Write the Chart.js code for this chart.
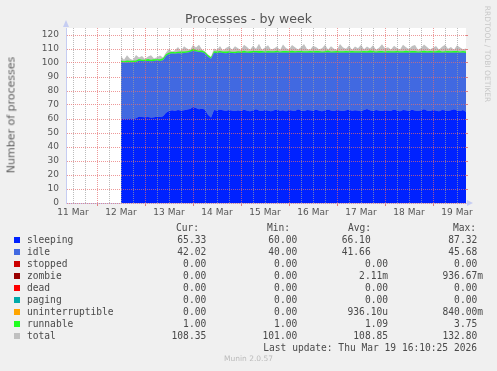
<!DOCTYPE html>
<html>
<head>
<meta charset="utf-8">
<script src="https://cdn.jsdelivr.net/npm/chart.js@4/dist/chart.umd.min.js"></script>
<style>
    html, body { margin: 0; padding: 0; background: #f0f0f0; }
    #wrap { position: relative; width: 497px; height: 371px; overflow: hidden; font-family: 'DejaVu Sans', sans-serif; color: #555; }
    #chart { position: absolute; left: 0; top: 0; }
    .title { position: absolute; left: 0; top: 11px; width: 497px; text-align: center; font-size: 12.6px; color: #555; }
    .ytitle { position: absolute; left: 11px; top: 115px; transform: translate(-50%, -50%) rotate(-90deg); white-space: nowrap; font-size: 11px; color: #606060; }
    .stamp { position: absolute; left: 487px; top: 54px; transform: translate(-50%, -50%) rotate(90deg); white-space: nowrap; font-size: 7.5px; color: #c8c8c8; }
    .legend { position: absolute; left: 0; top: 0; width: 497px; height: 371px; font-family: 'DejaVu Sans Mono', monospace; font-size: 9.6px; color: #4a4a4a; }
    .legend span { position: absolute; white-space: pre; line-height: 12px; }
    .legend i { position: absolute; width: 6px; height: 6px; }
    .footer { position: absolute; left: 0; top: 354px; width: 497px; text-align: center; font-size: 7.5px; color: #bbb; }
</style>
</head>
<body>
<div id="wrap">
    <canvas id="chart" width="497" height="371"></canvas>
    <div class="title">Processes - by week</div>
    <div class="ytitle">Number of processes</div>
    <div class="stamp">RRDTOOL / TOBI OETIKER</div>
    <div class="legend" id="legend"></div>
    <div class="footer">Munin 2.0.57</div>
</div>
<script>
// Time axis: hours since 11 Mar 00:00, one sample every 1.5 h from 12 Mar 12:00
const startHour = 36;
const stepHours = 1.5;
const dayLabels = ['11 Mar', '12 Mar', '13 Mar', '14 Mar', '15 Mar', '16 Mar', '17 Mar', '18 Mar', '19 Mar'];

const sleeping = [
    60.3, 60.1, 60.0, 60.4, 60.2, 60.6, 61.8, 61.5, 61.2, 61.4, 61.0, 61.3, 61.6, 61.4, 62.0,
    64.5, 65.8, 66.2, 65.9, 66.4, 66.0, 66.3, 66.8, 67.2, 68.5, 67.8, 67.0, 67.4, 66.8, 63.0, 61.0,
    66.5, 66.0, 66.8, 66.2, 65.9, 66.4, 66.1, 65.8,
    66.3, 65.7, 66.6, 66.0, 65.6, 66.2, 67.0, 66.1, 65.8, 66.4,
    66.0, 65.5, 66.3, 66.7, 65.9, 66.2, 65.6, 66.5, 66.1, 65.8,
    66.9, 66.0, 65.7, 66.4, 66.2, 65.9, 66.6, 66.0, 65.5, 66.3,
    66.8, 66.1, 65.8, 66.5, 66.0, 65.7, 66.2, 66.6, 65.9, 66.3,
    66.0, 65.6, 66.4, 67.1, 66.2, 65.8, 66.5, 66.0, 65.7, 66.3,
    66.1, 65.9, 66.7, 66.0, 65.6, 66.4, 66.2, 65.8, 66.6, 66.1,
    65.7, 66.3, 66.9, 66.0, 65.8, 66.4, 66.1, 65.6, 66.5, 66.2,
    65.9, 66.3, 67.0, 66.1, 65.7, 66.4, 65.2
];

const idle = [
    40.2, 40.2, 40.4, 40.2, 40.3, 40.2, 39.8, 39.9, 40.0, 40.1, 40.3, 40.1, 40.1, 40.1, 40.0,
    40.5, 40.7, 40.6, 40.7, 40.6, 40.8, 40.8, 40.6, 40.6, 40.1, 40.4, 40.8, 40.2, 40.0, 41.5, 42.0,
    40.9, 41.0, 40.7, 41.0, 41.1, 40.9, 41.0, 41.1,
    41.0, 41.5, 40.8, 41.3, 41.6, 41.2, 40.5, 41.1, 41.6, 40.9,
    41.3, 41.9, 41.0, 40.8, 41.4, 41.2, 41.7, 40.9, 41.2, 41.5,
    40.6, 41.3, 41.6, 41.0, 41.1, 41.5, 40.8, 41.4, 41.8, 41.0,
    40.7, 41.2, 41.5, 40.9, 41.4, 41.6, 41.1, 40.8, 41.5, 41.0,
    41.4, 41.7, 40.9, 40.3, 41.1, 41.6, 40.8, 41.3, 41.7, 41.0,
    41.2, 41.5, 40.6, 41.4, 41.8, 40.9, 41.2, 41.6, 40.7, 41.3,
    41.6, 41.0, 40.5, 41.4, 41.5, 41.0, 41.2, 41.8, 40.8, 41.1,
    41.4, 41.1, 40.4, 41.2, 41.6, 40.9, 42.0
];

const runnable = [
    1.2, 1.0, 1.3, 1.0, 1.1, 1.0, 1.2, 1.0, 1.1, 1.3, 1.0, 1.2, 1.0, 1.1, 1.4,
    1.3, 1.0, 1.2, 1.1, 1.0, 1.4, 1.1, 1.0, 1.2, 1.5, 1.1, 1.0, 1.3, 1.0, 1.2, 1.1,
    1.0, 1.2, 1.1, 1.0, 1.3, 1.1, 1.0, 1.2,
    1.1, 1.0, 1.3, 1.0, 1.2, 1.1, 1.0, 1.4, 1.1, 1.0,
    1.2, 1.0, 1.1, 1.3, 1.0, 1.1, 1.2, 1.0, 1.5, 1.1,
    1.0, 1.2, 1.1, 1.0, 1.3, 1.0, 1.1, 1.2, 1.0, 1.1,
    1.4, 1.0, 1.1, 1.2, 1.0, 1.1, 1.3, 1.0, 1.2, 1.1,
    1.0, 1.1, 1.2, 1.0, 1.6, 1.1, 1.0, 1.2, 1.1, 1.0,
    1.3, 1.0, 1.1, 1.2, 1.0, 1.1, 1.4, 1.0, 1.2, 1.1,
    1.0, 1.1, 1.3, 1.0, 1.2, 1.0, 1.1, 1.5, 1.0, 1.1,
    1.2, 1.0, 1.1, 1.3, 1.0, 1.2, 1.0
];

const total = [
    104.8, 102.4, 105.5, 103.1, 102.2, 105.8, 103.9, 105.0, 102.8, 104.6, 105.6, 103.2, 104.1, 105.3, 104.0,
    107.5, 110.2, 108.0, 109.1, 111.5, 108.6, 112.0, 110.3, 109.2, 112.8, 111.0, 113.0, 109.6, 108.4, 106.0, 104.5,
    110.4, 109.2, 112.2, 108.9, 110.8, 111.9, 109.4, 112.0,
    110.6, 109.2, 113.0, 111.4, 109.5, 112.4, 110.1, 113.8, 109.5, 111.0,
    112.7, 109.6, 110.4, 111.8, 109.2, 113.2, 110.8, 109.6, 112.8, 111.3,
    109.7, 111.2, 113.5, 110.0, 109.4, 112.2, 111.5, 109.8, 110.6, 113.0,
    109.6, 112.0, 110.2, 109.5, 113.6, 111.0, 110.2, 112.5, 109.4, 111.8,
    110.6, 113.0, 109.8, 111.8, 110.4, 112.7, 109.5, 110.9, 113.4, 110.6,
    111.3, 109.6, 112.4, 110.8, 109.7, 113.1, 111.2, 110.0, 112.1, 112.9,
    109.4, 110.7, 113.3, 111.5, 109.6, 110.9, 112.2, 109.7, 111.6, 113.0,
    110.1, 111.4, 109.5, 112.6, 111.0, 109.8, 110.4
];

// stopped, zombie, dead, paging and uninterruptible all stay at zero
const zeroSeries = sleeping.map(() => 0);

// Legend table (as printed under the graph)
const seriesNames = ['sleeping', 'idle', 'stopped', 'zombie', 'dead', 'paging', 'uninterruptible', 'runnable', 'total'];
const seriesColors = ['#0022ff', '#4169e1', '#cc0000', '#990000', '#ff0000', '#00aaaa', '#ffa500', '#22ff22', '#c0c0c0'];
const curValues = ['65.33 ', '42.02 ', '0.00 ', '0.00 ', '0.00 ', '0.00 ', '0.00 ', '1.00 ', '108.35 '];
const minValues = ['60.00 ', '40.00 ', '0.00 ', '0.00 ', '0.00 ', '0.00 ', '0.00 ', '1.00 ', '101.00 '];
const avgValues = ['66.10   ', '41.66   ', '0.00', '2.11m', '0.00', '0.00', '936.10u', '1.09', '108.85'];
const maxValues = ['87.32 ', '45.68 ', '0.00 ', '936.67m', '0.00 ', '0.00 ', '840.00m', '3.75 ', '132.80 '];
const lastUpdate = 'Last update: Thu Mar 19 16:10:25 2026';

const toPoints = arr => arr.map((v, i) => ({ x: startHour + i * stepHours, y: v }));

const minorGrid = 'rgba(160, 160, 160, 0.7)';
const majorGrid = 'rgba(230, 110, 110, 0.7)';
const axisColor = '#c6cdf2';

function area(label, data, color, fill) {
    return {
        label,
        data: toPoints(data),
        backgroundColor: color,
        borderColor: color,
        borderWidth: 0,
        pointRadius: 0,
        fill,
        tension: 0,
        stack: 'procs'
    };
}

const datasets = [
    area('sleeping', sleeping, seriesColors[0], 'origin'),
    area('idle', idle, seriesColors[1], '-1'),
    area('stopped', zeroSeries, seriesColors[2], '-1'),
    area('zombie', zeroSeries, seriesColors[3], '-1'),
    area('dead', zeroSeries, seriesColors[4], '-1'),
    area('paging', zeroSeries, seriesColors[5], '-1'),
    area('uninterruptible', zeroSeries, seriesColors[6], '-1'),
    area('runnable', runnable, seriesColors[7], '-1'),
    Object.assign(area('total', total, seriesColors[8], 'origin'), { stack: 'total' })
];

// white plot background and the rrdtool style axis arrows
const rrdFrame = {
    id: 'rrdFrame',
    beforeDraw(chart) {
        const { ctx, chartArea: a } = chart;
        ctx.save();
        ctx.fillStyle = '#ffffff';
        ctx.fillRect(a.left, a.top, a.right - a.left, a.bottom - a.top);
        ctx.restore();
    },
    afterDraw(chart) {
        const { ctx, chartArea: a } = chart;
        ctx.save();
        ctx.fillStyle = axisColor;
        ctx.beginPath();
        ctx.moveTo(a.left - 3, a.top - 1);
        ctx.lineTo(a.left + 3, a.top - 1);
        ctx.lineTo(a.left, a.top - 8);
        ctx.closePath();
        ctx.fill();
        ctx.beginPath();
        ctx.moveTo(a.right + 1, a.bottom - 3);
        ctx.lineTo(a.right + 1, a.bottom + 3);
        ctx.lineTo(a.right + 7, a.bottom);
        ctx.closePath();
        ctx.fill();
        ctx.restore();
    }
};

const tickFont = { family: 'DejaVu Sans', size: 9 };

new Chart(document.getElementById('chart'), {
    type: 'line',
    data: { datasets },
    plugins: [rrdFrame],
    options: {
        responsive: false,
        animation: false,
        events: [],
        layout: { padding: { top: 28, left: 0, right: 0, bottom: 0 } },
        plugins: { legend: { display: false }, tooltip: { enabled: false }, title: { display: false } },
        scales: {
            x: {
                type: 'linear',
                min: 8.5,
                max: 208.5,
                afterBuildTicks: axis => {
                    const ticks = [];
                    for (let h = 12; h <= 204; h += 6) ticks.push({ value: h });
                    axis.ticks = ticks;
                },
                afterFit: s => { s.height = 168; },
                ticks: {
                    autoSkip: false,
                    maxRotation: 0,
                    padding: 1,
                    color: '#555',
                    font: tickFont,
                    callback: v => ((v - 12) % 24 === 0 ? dayLabels[(v - 12) / 24] : '')
                },
                grid: {
                    z: 1,
                    color: c => (c.tick && c.tick.value % 24 === 0 ? majorGrid : minorGrid),
                    tickColor: c => (c.tick && c.tick.value % 24 === 0 ? '#e08080' : 'rgba(0,0,0,0)'),
                    tickLength: 3,
                    tickBorderDash: []
                },
                border: { color: axisColor, dash: [1, 1], z: 1 }
            },
            y: {
                stacked: true,
                min: 0,
                max: 125,
                afterFit: s => { s.width = 66; },
                ticks: {
                    stepSize: 5,
                    padding: 7,
                    color: '#555',
                    font: tickFont,
                    callback: v => (v % 10 === 0 ? v : '')
                },
                grid: {
                    z: 1,
                    drawTicks: false,
                    color: c => (c.tick && c.tick.value % 10 === 0 ? majorGrid : minorGrid)
                },
                border: { color: axisColor, dash: [1, 1], z: 1 }
            },
            yr: {
                position: 'right',
                min: 0,
                max: 125,
                afterFit: s => { s.width = 31; },
                ticks: { display: false, stepSize: 5 },
                grid: {
                    drawOnChartArea: false,
                    tickLength: 2,
                    tickColor: c => (c.tick && c.tick.value % 10 === 0 ? '#e08080' : 'rgba(0,0,0,0)')
                },
                border: { display: false }
            }
        }
    }
});

// Legend below the graph
const legend = document.getElementById('legend');
function addText(text, top, opts) {
    const s = document.createElement('span');
    s.textContent = text;
    s.style.top = top + 'px';
    if (opts.left !== undefined) s.style.left = opts.left + 'px';
    if (opts.right !== undefined) s.style.right = (497 - opts.right) + 'px';
    legend.appendChild(s);
}

const headerTop = 222;
addText('Cur:', headerTop, { left: 176 });
addText('Min:', headerTop, { left: 267 });
addText('Avg:', headerTop, { left: 348 });
addText('Max:', headerTop, { left: 453 });

seriesNames.forEach((name, i) => {
    const top = headerTop + 12 * (i + 1);
    const sw = document.createElement('i');
    sw.style.left = '14px';
    sw.style.top = (top + 3) + 'px';
    sw.style.background = seriesColors[i];
    legend.appendChild(sw);
    addText(name, top, { left: 27 });
    addText(curValues[i], top, { right: 212 });
    addText(minValues[i], top, { right: 303 });
    addText(avgValues[i], top, { right: 388 });
    addText(maxValues[i], top, { right: 483 });
});
addText(lastUpdate, headerTop + 12 * 10, { right: 477 });
</script>
</body>
</html>
